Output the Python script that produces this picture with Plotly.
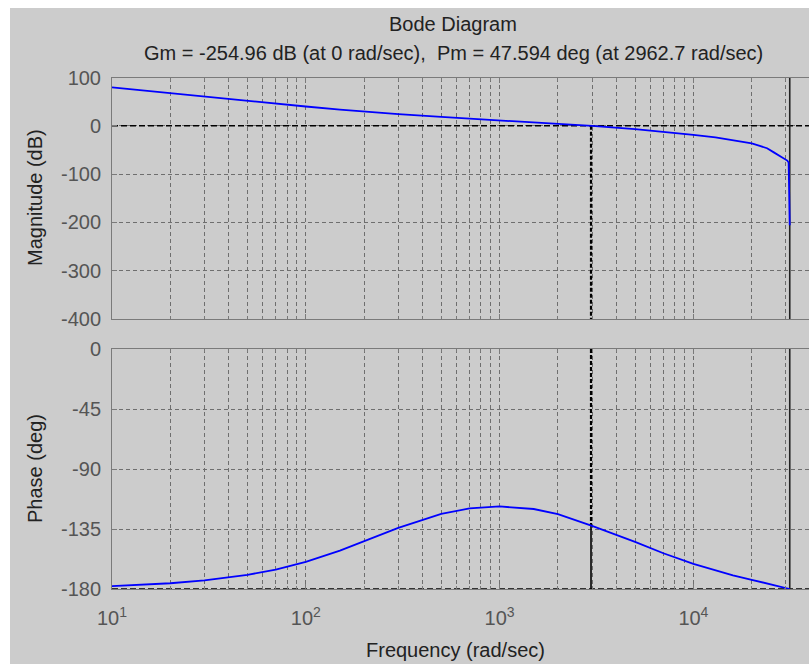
import plotly.graph_objects as go

# ---- data ----
freq = [10, 15, 20, 30, 50, 70, 100, 150, 200, 300, 500, 700, 1000, 1500, 2000,
        2962.7, 3000, 5000, 7000, 10000, 13000, 16000, 20000, 22000, 24000,
        26000, 28600, 30500, 31000, 31416]
mag_db = [79.4, 72.3, 67.3, 60.3, 51.6, 45.9, 40.0, 33.6, 29.4, 24.1, 18.3, 14.9,
          11.4, 7.4, 4.4, 0.0, -0.2, -7.0, -12.2, -18.7, -24.1, -29.3, -36.4,
          -41.5, -46.5, -55.0, -65.0, -72.0, -76.0, -206.0]
phase_deg = [-177.9, -176.8, -175.7, -173.6, -169.4, -165.4, -159.6, -151.2, -144.2,
             -134.1, -123.7, -119.6, -118.1, -120.0, -123.8, -132.4, -132.7, -144.7,
             -153.2, -161.2, -166.2, -169.7, -173.1, -174.6, -175.8, -177.0, -178.5,
             -179.5, -179.8, -180.0]

pm_freq = 2962.7
pm_phase = -132.406
nyq_freq = 31416

mag_ticks = [100, 0, -100, -200, -300, -400]
mag_ticktext = ["100", "0", "-100", "-200", "-300", "-400"]
phase_ticks = [0, -45, -90, -135, -180]
phase_ticktext = ["0", "-45", "-90", "-135", "-180"]
x_tickvals = [10, 100, 1000, 10000]
x_ticktext = ["10<sup>1</sup>", "10<sup>2</sup>", "10<sup>3</sup>", "10<sup>4</sup>"]

title_text = "Bode Diagram"
subtitle_text = "Gm = -254.96 dB (at 0 rad/sec),  Pm = 47.594 deg (at 2962.7 rad/sec)"

# ---- layout geometry (pixels) ----
W, H = 809, 664
L = 112
x_lo, x_hi = 1.0, 4.5965
def py(p):
    return 1 - p / H

top_dom = [py(319), py(77.5)]
bot_dom = [py(589), py(349)]

FONT = "Liberation Sans, Arial, sans-serif"
GRID = "#6e6e6e"
AX = "#7a7a7a"
TICKC = "#555555"
BLUE = "#0000ff"

fig = go.Figure()

x_ends = [10 ** x_lo, 10 ** x_hi]

# magnitude
fig.add_trace(go.Scatter(x=x_ends, y=[0, 0], mode="lines", xaxis="x", yaxis="y",
                         line=dict(color="black", width=1.5, dash="6px,3px"), hoverinfo="skip"))
fig.add_trace(go.Scatter(x=[pm_freq, pm_freq], y=[0, mag_ticks[-1]], mode="lines", xaxis="x", yaxis="y",
                         line=dict(color="black", width=2.2, dash="4px,2px"), hoverinfo="skip"))
fig.add_trace(go.Scatter(x=[nyq_freq, nyq_freq], y=[mag_ticks[0], mag_ticks[-1]], mode="lines",
                         xaxis="x", yaxis="y", line=dict(color="#222222", width=1.6), hoverinfo="skip"))
fig.add_trace(go.Scatter(x=freq, y=mag_db, mode="lines", xaxis="x", yaxis="y",
                         line=dict(color=BLUE, width=1.8), hoverinfo="skip"))

# phase
fig.add_trace(go.Scatter(x=x_ends, y=[-180, -180], mode="lines", xaxis="x2", yaxis="y2",
                         line=dict(color="black", width=1.5, dash="6px,3px"), hoverinfo="skip"))
fig.add_trace(go.Scatter(x=[pm_freq, pm_freq], y=[0, pm_phase], mode="lines", xaxis="x2", yaxis="y2",
                         line=dict(color="black", width=2.2, dash="4px,2px"), hoverinfo="skip"))
fig.add_trace(go.Scatter(x=[pm_freq, pm_freq], y=[pm_phase, -180], mode="lines", xaxis="x2", yaxis="y2",
                         line=dict(color="black", width=1.6), hoverinfo="skip"))
fig.add_trace(go.Scatter(x=[nyq_freq, nyq_freq], y=[0, -180], mode="lines", xaxis="x2", yaxis="y2",
                         line=dict(color="#222222", width=1.6), hoverinfo="skip"))
fig.add_trace(go.Scatter(x=freq, y=phase_deg, mode="lines", xaxis="x2", yaxis="y2",
                         line=dict(color=BLUE, width=1.8), hoverinfo="skip"))

def xaxis_common(anchor, show_labels):
    return dict(
        type="log", range=[x_lo, x_hi], anchor=anchor, domain=[0, 1], automargin=False,
        showgrid=True, gridcolor=GRID, griddash="4px,3px", gridwidth=1,
        tickmode="array", tickvals=x_tickvals, ticktext=x_ticktext, showticklabels=show_labels,
        ticks="inside", ticklen=5, tickcolor=AX,
        minor=dict(dtick="D1", showgrid=True, gridcolor=GRID, griddash="4px,3px",
                   gridwidth=1, ticks="inside", ticklen=3, tickcolor=AX),
        showline=True, linecolor=AX, linewidth=1, mirror="allticks",
        zeroline=False, tickfont=dict(family=FONT, size=20, color=TICKC),
        ticklabelstandoff=11,
    )

def yaxis_common(anchor, dom, rng, tv, tt):
    return dict(
        anchor=anchor, domain=dom, range=rng, tickmode="array", tickvals=tv, ticktext=tt,
        automargin=False,
        showgrid=True, gridcolor=GRID, griddash="4px,3px", gridwidth=1,
        ticks="inside", ticklen=5, tickcolor=AX,
        showline=True, linecolor=AX, linewidth=1, mirror=False, zeroline=False,
        tickfont=dict(family=FONT, size=20, color=TICKC), ticklabelstandoff=6,
    )

fig.update_layout(
    template="none",
    width=W, height=H, autosize=False,
    margin=dict(l=L, r=0, t=0, b=0, pad=0, autoexpand=False),
    paper_bgcolor="white", plot_bgcolor="white",
    showlegend=False,
    xaxis=xaxis_common("y", False),
    yaxis=yaxis_common("x", top_dom, [-400, 100], mag_ticks, mag_ticktext),
    xaxis2=xaxis_common("y2", True),
    yaxis2=yaxis_common("x2", bot_dom, [-180, 0], phase_ticks, phase_ticktext),
    font=dict(family=FONT, size=20, color="#222222"),
)

def px_x(p):
    return (p - L) / (W - L)

fig.add_shape(type="rect", xref="paper", yref="paper", layer="below",
              x0=px_x(10), x1=1.05, y0=-0.05, y1=py(8),
              fillcolor="#cccccc", line=dict(width=0))

def label(text, x, y, angle=0, color="#222222"):
    fig.add_annotation(text=text, xref="paper", yref="paper", x=px_x(x), y=py(y),
                       showarrow=False, textangle=angle, xanchor="center", yanchor="middle",
                       font=dict(family=FONT, size=20, color=color))

label(title_text, 453, 24)
label(subtitle_text, 453, 53)
label("Frequency (rad/sec)", 455, 650)
label("Magnitude (dB)", 35, 198, angle=-90)
label("Phase (deg)", 35, 469, angle=-90)

fig.write_html(
    "out.html",
    config={"displayModeBar": False},
    post_script="document.body.style.margin='0px';document.body.style.overflow='hidden';",
)
